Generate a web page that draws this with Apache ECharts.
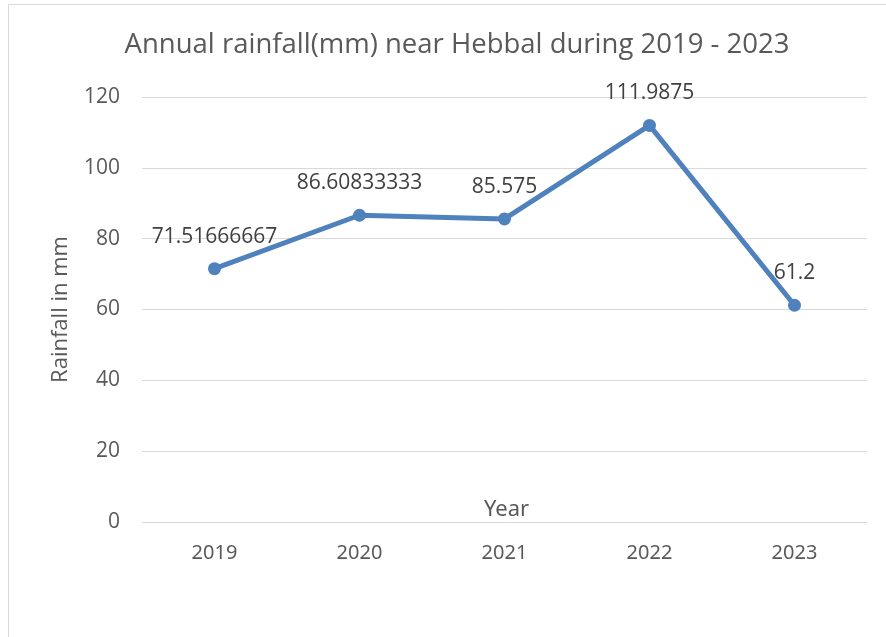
<!DOCTYPE html>
<html><head><meta charset="utf-8">
<script src="https://cdn.jsdelivr.net/npm/echarts@6/dist/echarts.min.js"></script>
<style>html,body{margin:0;padding:0;background:#fff}#c{width:886px;height:637px}</style>
</head><body><div id="c"></div>
<script>
const years = ['2019','2020','2021','2022','2023'];
const rainfall = [71.51666667, 86.60833333, 85.575, 111.9875, 61.2];
const labels = ['71.51666667','86.60833333','85.575','111.9875','61.2'];

const chart = echarts.init(document.getElementById('c'));
chart.setOption({
  animation: false,
  title: {
    text: 'Annual rainfall(mm) near Hebbal during 2019 - 2023',
    left: 452, top: 26, textAlign: 'center',
    textStyle: {fontFamily: 'Open Sans', fontSize: 27.5, fontWeight: 'normal', color: '#595959'}
  },
  graphic: [
    {type: 'rect', shape: {x: 8.5, y: 4.5, width: 900, height: 700}, style: {fill: 'none', stroke: '#d9d9d9', lineWidth: 1}, silent: true, z: -1},
    {type: 'text', left: 484, top: 499, style: {text: 'Year', fontFamily: 'Noto Sans', fontSize: 22, fill: '#595959'}}
  ],
  grid: {left: 142, right: 19, top: 97, bottom: 115},
  xAxis: {
    type: 'category', data: years, boundaryGap: true,
    axisLine: {show: false}, axisTick: {show: false},
    axisLabel: {fontFamily: 'Noto Sans', fontSize: 20, color: '#595959', margin: 21}
  },
  yAxis: {
    type: 'value', min: 0, max: 120, interval: 20,
    name: 'Rainfall in mm', nameLocation: 'middle', nameGap: 70, nameRotate: 90,
    nameTextStyle: {fontFamily: 'Open Sans', fontSize: 22, color: '#595959'},
    axisLabel: {fontFamily: 'Open Sans', fontSize: 21, color: '#595959', margin: 22},
    splitLine: {lineStyle: {color: '#d9d9d9', width: 1}}
  },
  series: [{
    type: 'line', data: rainfall,
    lineStyle: {color: '#4F81BD', width: 5},
    itemStyle: {color: '#4F81BD'},
    symbol: 'circle', symbolSize: 13,
    label: {
      show: true, position: 'top', distance: 15,
      formatter: p => labels[p.dataIndex],
      fontFamily: 'Open Sans', fontSize: 21, color: '#404040'
    }
  }]
});
</script></body></html>
